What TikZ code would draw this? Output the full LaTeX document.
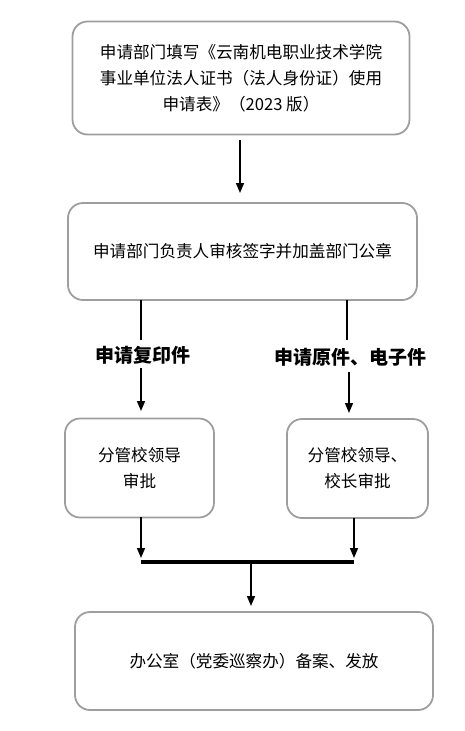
\documentclass[tikz,border=0pt]{standalone}
\usepackage{fontspec}
\setmainfont{Noto Sans CJK SC}
\usetikzlibrary{arrows.meta}
\begin{document}
\begin{tikzpicture}[x=1pt,y=-1pt,
  box/.style={draw=black!38,line width=1.8pt,rounded corners=15pt,align=center,
    font=\fontsize{16.6}{26}\selectfont,inner sep=0pt},
  lbl/.style={font=\fontsize{19}{22}\selectfont\bfseries,inner sep=0pt},
  arr/.style={line width=1.5pt,-{Triangle[length=10pt,width=8pt]}},
  ln/.style={line width=1.5pt}]
\useasboundingbox (0,0) rectangle (465,731);
\node[box,minimum width=337pt,minimum height=113pt] (b1) at (241,78)
  {申请部门填写《云南机电职业技术学院\\事业单位法人证书（法人身份证）使用\\申请表》（2023 版）};
\node[box,minimum width=349pt,minimum height=97pt] (b2) at (242.5,251.5)
  {申请部门负责人审核签字并加盖部门公章};
\node[lbl] (l1) at (143,355) {申请复印件};
\node[lbl] (l2) at (350,357) {申请原件、电子件};
\node[box,minimum width=149pt,minimum height=99pt] (b3) at (139.5,468)
  {分管校领导\\审批};
\node[box,minimum width=141pt,minimum height=99pt] (b4) at (357.5,468.5)
  {分管校领导、\\校长审批};
\node[box,minimum width=358pt,minimum height=98pt] (b5) at (254,661)
  {办公室（党委巡察办）备案、发放};
% connectors
\coordinate (a1s) at (240,140);
\coordinate (a1e) at (240,193);
\draw[arr] (a1s) -- (a1e);
\coordinate (p1) at (141,300);
\coordinate (p1e) at (141,340);
\draw[ln] (p1) -- (p1e);
\coordinate (q1s) at (141,368);
\coordinate (q1e) at (141,411);
\draw[arr] (q1s) -- (q1e);
\coordinate (p2) at (347,300);
\coordinate (p2e) at (347,340);
\draw[ln] (p2) -- (p2e);
\coordinate (q2s) at (349,372);
\coordinate (q2e) at (349,413);
\draw[arr] (q2s) -- (q2e);
\coordinate (r1) at (141,517);
\coordinate (r1e) at (141,558);
\draw[arr] (r1) -- (r1e);
\coordinate (r2) at (354,518);
\coordinate (r2e) at (354,558);
\draw[arr] (r2) -- (r2e);
\coordinate (barl) at (141,562);
\coordinate (barr) at (354,562);
\draw[line width=4pt] (barl) -- (barr);
\coordinate (c1) at (251,562);
\coordinate (c1e) at (251,606);
\draw[arr] (c1) -- (c1e);
\end{tikzpicture}
\end{document}
